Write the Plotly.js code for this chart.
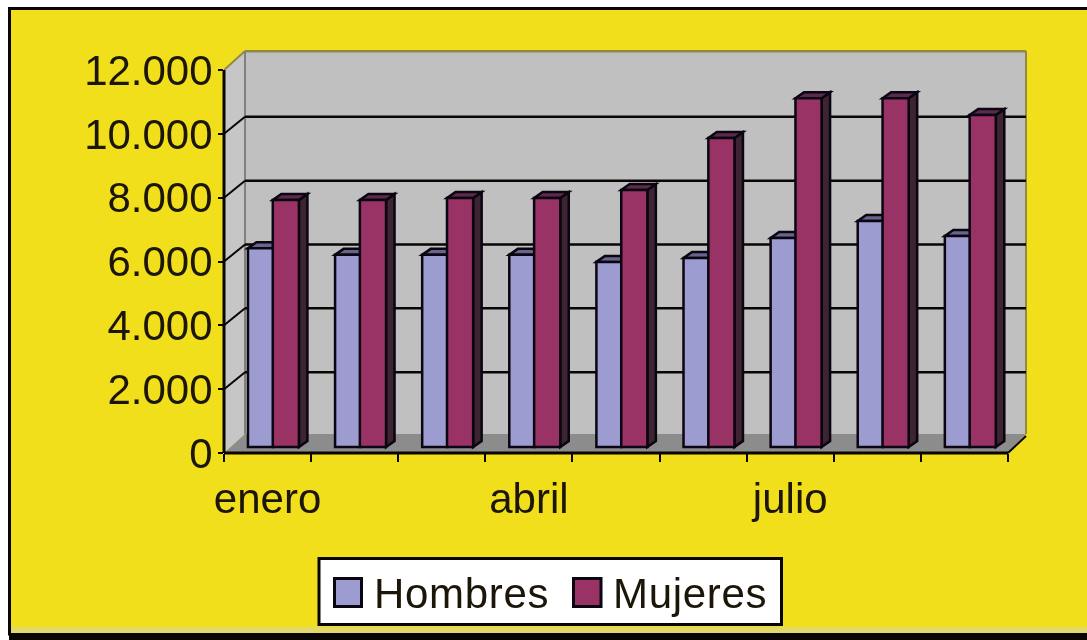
<!DOCTYPE html>
<html><head><meta charset="utf-8">
<script src="https://cdn.plot.ly/plotly-3.0.1.min.js"></script>
<style>html,body{margin:0;padding:0;background:#fff;overflow:hidden}#c{width:1087px;height:640px;filter:blur(0.45px)}
text.annotation-text{letter-spacing:0.7px}</style>
</head><body><div id="c"></div>
<script>
const months = ["enero","febrero","marzo","abril","mayo","junio","julio","agosto","septiembre"];
const hombres = [6230,6020,6020,6020,5800,5920,6550,7080,6610];
const mujeres = [7740,7740,7800,7800,8050,9680,10930,10930,10400];
const yTicks = [0,2000,4000,6000,8000,10000,12000];
const yTickText = ["0","2.000","4.000","6.000","8.000","10.000","12.000"];
const xTickVals = ["enero","abril","julio"];
const seriesNames = ["Hombres","Mujeres"];
const colHombres = "#9c9cd0", colMujeres = "#993366";

// pixel frame of the plotting box
const L=224,R=1028,T=50,B=453;
const pxCat=(1008-224)/9, pxVal=(453-70)/12000;
const yMax=(B-T)/pxVal, xMax=8.5+(R-1008)/pxCat;
const px=x=>(x-L)/(R-L), py=y=>(B-y)/(B-T);
const wallDx=21/pxCat, wallDxR=18/pxCat, wallDy=19/pxVal, gridDy=17/pxVal;
const base=6/pxVal, depthX=8.5/pxCat, depthY=6/pxVal;
const hOff=-0.225,hW=0.29,mOff=0.06,mW=0.3;

function poly(pts,fill,line,w){return {type:"path",xref:"x",yref:"y",layer:"below",
  path:"M"+pts.map(p=>p.join(",")).join("L")+"Z",fillcolor:fill,line:{color:line||fill,width:w===undefined?0:w}};}
function seg(x0,y0,x1,y1,col,w){return {type:"line",xref:"x",yref:"y",layer:"below",x0,y0,x1,y1,line:{color:col,width:w}};}
function prect(x0,y0,x1,y1,fill,line,w){return {type:"rect",xref:"paper",yref:"paper",layer:"below",
  x0:px(x0),x1:px(x1),y0:py(y0),y1:py(y1),fillcolor:fill,line:{color:line||fill,width:w||0}};}

const xl=-0.5,xr=8.5,wl=xl+wallDx,wr=xr+wallDxR;
const shapes=[];
// page frame
shapes.push(prect(9.5,8.5,1100,634,"#f2df1c","#0a0505",3));
shapes.push(prect(11,627,1100,633,"#e2d86c"));
shapes.push(prect(9,633,1100,641,"#0a0505"));
// walls and floor
shapes.push(poly([[xl,0],[xl,12000],[wl,12000+wallDy],[wl,wallDy]],"#c6c6c6"));
shapes.push(poly([[wl,wallDy],[wl,12000+wallDy],[wr,12000+wallDy],[wr,wallDy]],"#c0c0c0"));
shapes.push(poly([[xl,0],[wl,wallDy],[wr,wallDy],[xr,0]],"#8c8c8c"));
shapes.push(seg(wl,12000+wallDy,wr,12000+wallDy,"#8f8a44",3));
shapes.push(seg(wr,12000+wallDy,wr,wallDy,"#8f8a44",2));
shapes.push(seg(xl,12000,wl,12000+wallDy,"#8f8a44",2));
shapes.push(seg(wl,wallDy,wl,12000+wallDy,"#808080",2));
yTicks.slice(1,-1).forEach(v=>{
  shapes.push(seg(xl,v,wl,v+gridDy,"#0a0505",2));
  shapes.push(seg(wl,v+gridDy,wr,v+gridDy,"#0a0505",2.5));
});
// top and side faces of bars, derived from the values
months.forEach((m,i)=>{
  const ht=hombres[i]+base, ml=i+mOff, mr=ml+mW, mt=mujeres[i]+base;
  shapes.push(poly([[i+hOff,ht],[i+hOff+depthX,ht+depthY],[i+hOff+hW+depthX,ht+depthY],[i+hOff+hW,ht]],"#66668c","#0a0510",2.5));
  shapes.push(poly([[mr,base],[mr+depthX,base+depthY],[mr+depthX,mt+depthY],[mr,mt]],"#3c2432","#0a0510",2.5));
  shapes.push(poly([[ml,mt],[ml+depthX,mt+depthY],[mr+depthX,mt+depthY],[mr,mt]],"#5c2a4c","#0a0510",2.5));
});
// axis lines
shapes.push({type:"line",xref:"paper",yref:"paper",layer:"above",x0:px(224),x1:px(1008),y0:0,y1:0,line:{color:"#0a0505",width:3}});
shapes.push({type:"line",xref:"paper",yref:"paper",layer:"above",x0:0,x1:0,y0:py(70),y1:0,line:{color:"#0a0505",width:3}});
shapes.push({type:"line",xref:"paper",yref:"paper",layer:"above",x0:px(1008),x1:px(1026),y0:0,y1:py(436),line:{color:"#0a0505",width:2}});
// legend box
shapes.push(Object.assign(prect(319,558.5,781.5,624.5,"#ffffff","#0a0505",3),{layer:"above"}));
shapes.push(Object.assign(prect(334.5,578.5,361.5,606.5,colHombres,"#0a0510",3),{layer:"above"}));
shapes.push(Object.assign(prect(573.5,578.5,601,606.5,colMujeres,"#0a0510",3),{layer:"above"}));

const font={family:"Liberation Sans, Arial, sans-serif",size:42,color:"#1c1608"};
const barLine={color:"#0a0510",width:2.5};
const data=[
 {type:"bar",name:seriesNames[0],x:months,y:hombres,base:base,offset:hOff,width:hW,marker:{color:colHombres,line:barLine},showlegend:false},
 {type:"bar",name:seriesNames[1],x:months,y:mujeres,base:base,offset:mOff,width:mW,marker:{color:colMujeres,line:barLine},showlegend:false}
];
const layout={
 width:1087,height:640,autosize:false,
 margin:{l:L,r:1087-R,t:T,b:640-B,pad:0},
 paper_bgcolor:"#ffffff",plot_bgcolor:"rgba(0,0,0,0)",
 font:font,showlegend:false,barmode:"overlay",
 xaxis:{type:"category",categoryorder:"array",categoryarray:months,range:[-0.5,xMax],fixedrange:true,
   showgrid:false,zeroline:false,showline:false,ticks:"",
   tickmode:"array",tickvals:xTickVals,ticktext:xTickVals,tickangle:0,tickfont:font,ticklabelstandoff:17,
   minor:{tickmode:"array",tickvals:[-0.5,0.5,1.5,2.5,3.5,4.5,5.5,6.5,7.5,8.5],ticks:"outside",ticklen:8,tickwidth:2,tickcolor:"#0a0505",showgrid:false}},
 yaxis:{range:[0,yMax],fixedrange:true,showgrid:false,zeroline:false,showline:false,
   tickmode:"array",tickvals:yTicks,ticktext:yTickText,ticks:"outside",ticklen:5,tickwidth:2,tickcolor:"#0a0505",tickfont:font,ticklabelstandoff:-3},
 shapes:shapes,
 annotations:[
  {xref:"paper",yref:"paper",x:px(372),y:py(593),xanchor:"left",yanchor:"middle",text:seriesNames[0],showarrow:false,font:font},
  {xref:"paper",yref:"paper",x:px(611),y:py(593),xanchor:"left",yanchor:"middle",text:seriesNames[1],showarrow:false,font:font}
 ]
};
Plotly.newPlot("c",data,layout,{displayModeBar:false,staticPlot:true});
</script></body></html>
